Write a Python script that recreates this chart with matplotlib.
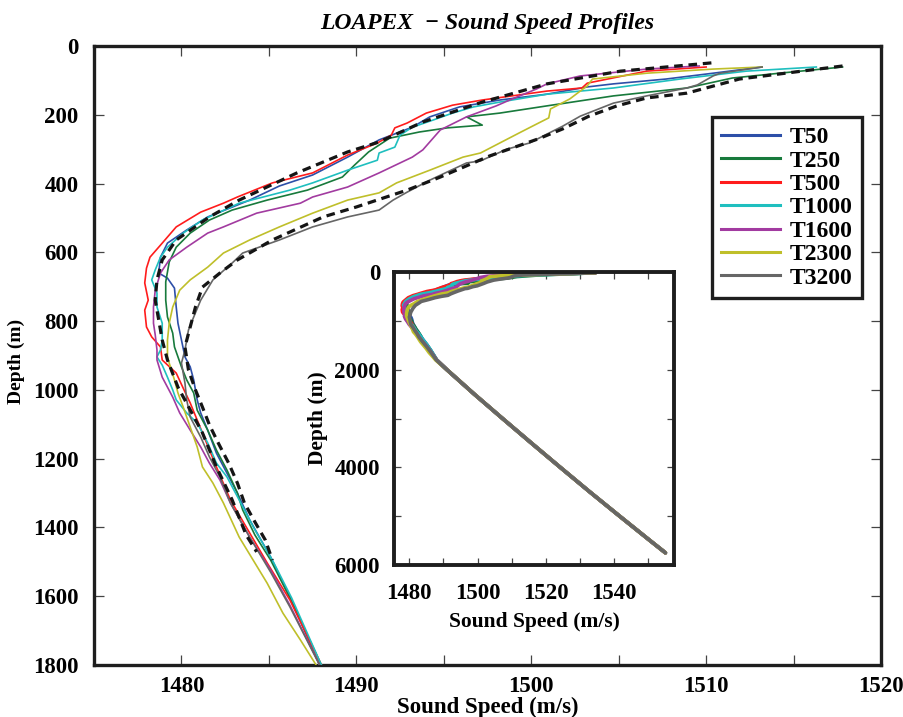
import matplotlib
matplotlib.use("Agg")
import matplotlib.pyplot as plt
from matplotlib.ticker import MultipleLocator

# ---- data: sound speed (m/s) vs depth (m) ----
T50_SPEED = [1513.2, 1510.4, 1507.7, 1504.7, 1503.2, 1500.9, 1498.2, 1495.9, 1494.2, 1493.2,
             1491.3, 1489.5, 1487.5, 1485.6, 1483.9, 1481.5, 1480.3, 1479.2, 1478.8, 1478.7,
             1479.2, 1479.6, 1479.7, 1479.8, 1480.0, 1480.2, 1480.5, 1480.7, 1480.9, 1481.1,
             1481.5, 1482.0, 1482.6, 1483.2, 1483.9, 1485.1, 1486.2, 1487.9]
T50_DEPTH = [61, 79, 96, 110, 119, 140, 157, 177, 206, 236,
             273, 323, 375, 407, 448, 497, 535, 573, 614, 660,
             675, 704, 759, 806, 855, 904, 933, 971, 1029, 1067,
             1117, 1184, 1242, 1300, 1378, 1486, 1602, 1800]

T250_SPEED = [1517.8, 1514.2, 1511.5, 1508.9, 1504.7, 1500.9, 1498.2, 1496.3, 1497.2, 1495.2,
              1493.6, 1491.9, 1490.7, 1489.9, 1489.2, 1487.2, 1484.9, 1482.9, 1481.6, 1480.5,
              1479.7, 1479.3, 1479.1, 1479.1, 1479.2, 1479.5, 1479.6, 1480.0, 1480.3, 1480.7,
              1480.9, 1481.5, 1482.0, 1482.6, 1483.2, 1483.5, 1484.2, 1485.1, 1486.2, 1488.0]
T250_DEPTH = [61, 79, 93, 122, 145, 174, 195, 206, 230, 238,
              250, 268, 308, 346, 381, 419, 448, 477, 506, 544,
              585, 628, 686, 739, 788, 835, 875, 933, 971, 1009,
              1059, 1117, 1175, 1233, 1300, 1349, 1422, 1495, 1605, 1800]

T500_SPEED = [1510.0, 1506.6, 1503.2, 1502.9, 1500.9, 1498.9, 1497.2, 1495.5, 1494.0, 1492.9,
              1492.2, 1492.0, 1491.2, 1489.5, 1487.5, 1485.2, 1483.2, 1482.4, 1481.1, 1479.7,
              1478.8, 1478.2, 1478.0, 1477.9, 1478.1, 1477.9, 1478.0, 1478.3, 1478.8, 1478.9,
              1479.7, 1480.1, 1480.5, 1481.2, 1482.0, 1482.8, 1483.9, 1484.9, 1486.2, 1488.0]
T500_DEPTH = [61, 73, 108, 122, 131, 145, 157, 172, 195, 224,
              238, 259, 282, 317, 369, 398, 439, 457, 483, 526,
              579, 614, 646, 689, 739, 768, 817, 846, 875, 913,
              951, 995, 1038, 1125, 1224, 1320, 1416, 1503, 1611, 1800]

T1000_SPEED = [1516.3, 1512.3, 1508.5, 1504.7, 1500.9, 1498.2, 1496.7, 1495.5, 1494.4, 1493.2,
               1492.5, 1492.2, 1491.3, 1491.2, 1489.5, 1487.5, 1486.2, 1483.3, 1481.2, 1480.1,
               1479.2, 1478.8, 1478.5, 1478.3, 1478.6, 1478.6, 1478.9, 1478.9, 1478.8, 1478.6,
               1478.9, 1479.2, 1479.5, 1479.7, 1480.3, 1480.9, 1481.5, 1482.0, 1482.6, 1483.3,
               1484.2, 1485.2, 1486.3, 1488.0]
T1000_DEPTH = [61, 73, 96, 122, 140, 163, 177, 195, 215, 236,
               259, 294, 311, 332, 361, 398, 419, 457, 506, 544,
               585, 614, 651, 680, 718, 759, 806, 855, 884, 904,
               928, 963, 1000, 1029, 1067, 1096, 1154, 1213, 1253, 1320,
               1407, 1495, 1605, 1800]

T1600_SPEED = [1509.6, 1506.6, 1502.8, 1500.9, 1500.3, 1498.9, 1498.0, 1496.3, 1494.8, 1493.8,
               1493.2, 1491.3, 1489.5, 1487.5, 1486.8, 1484.3, 1482.4, 1481.5, 1480.3, 1479.3,
               1478.8, 1478.5, 1478.4, 1478.4, 1478.5, 1478.6, 1478.6, 1478.9, 1479.5, 1479.9,
               1480.5, 1481.1, 1481.6, 1482.2, 1482.8, 1483.9, 1485.1, 1486.2, 1487.9]
T1600_DEPTH = [58, 67, 87, 110, 125, 154, 174, 206, 244, 302,
               323, 369, 410, 439, 457, 486, 526, 544, 585, 622,
               660, 710, 759, 806, 840, 884, 913, 963, 1021, 1067,
               1117, 1166, 1213, 1262, 1329, 1428, 1524, 1626, 1800]

T2300_SPEED = [1513.2, 1510.4, 1506.6, 1503.5, 1503.2, 1502.8, 1502.2, 1501.1, 1501.0, 1500.3,
               1499.3, 1498.2, 1497.1, 1496.1, 1494.2, 1492.3, 1491.3, 1489.5, 1487.5, 1485.6,
               1483.9, 1482.4, 1481.5, 1480.5, 1479.9, 1479.5, 1479.3, 1479.2, 1479.2, 1479.3,
               1479.6, 1479.8, 1480.1, 1480.5, 1480.9, 1481.2, 1481.8, 1482.4, 1483.3, 1484.1,
               1484.9, 1485.8, 1486.8, 1487.7]
T2300_DEPTH = [61, 67, 79, 96, 116, 131, 154, 183, 209, 227,
               253, 282, 311, 323, 361, 398, 427, 448, 486, 526,
               564, 602, 643, 680, 710, 759, 806, 855, 904, 922,
               971, 1009, 1050, 1108, 1166, 1224, 1271, 1329, 1428, 1495,
               1562, 1649, 1727, 1800]

T3200_SPEED = [1513.2, 1510.8, 1510.4, 1509.5, 1508.9, 1506.6, 1504.7, 1502.8, 1501.8, 1500.9,
               1499.9, 1498.6, 1497.1, 1496.3, 1494.2, 1492.9, 1492.1, 1491.3, 1489.5, 1487.5,
               1485.6, 1483.5, 1482.9, 1481.8, 1481.1, 1480.7, 1480.4, 1480.2, 1480.0, 1480.2,
               1480.3, 1480.5, 1481.1, 1481.6, 1482.2, 1482.8, 1483.9, 1485.1, 1486.2, 1487.9]
T3200_DEPTH = [61, 79, 87, 113, 122, 145, 166, 204, 233, 256,
               282, 300, 334, 340, 390, 425, 448, 477, 497, 526,
               564, 602, 631, 680, 739, 788, 826, 884, 922, 980,
               1029, 1079, 1137, 1195, 1253, 1329, 1428, 1530, 1631, 1800]

# dashed reference envelopes
DASH_A_SPEED = [1510.3, 1505.1, 1500.9, 1497.2, 1493.8, 1491.3, 1489.5, 1486.6, 1483.3, 1481.6,
                1479.7, 1478.9, 1478.6, 1478.5, 1478.7, 1478.9, 1479.2, 1479.8, 1480.5, 1481.2,
                1482.0, 1482.9, 1483.7, 1484.3]
DASH_A_DEPTH = [49, 73, 110, 163, 221, 279, 308, 369, 448, 497,
                564, 622, 680, 739, 797, 855, 913, 992, 1058, 1125,
                1224, 1320, 1422, 1471]
DASH_B_SPEED = [1517.8, 1511.9, 1508.9, 1506.6, 1504.9, 1503.3, 1501.8, 1500.4, 1497.6, 1494.8,
                1492.9, 1490.0, 1488.1, 1485.2, 1483.2, 1482.2, 1481.2, 1480.8, 1480.5, 1480.2,
                1480.4, 1480.8, 1481.2, 1481.6, 1482.1, 1482.7, 1483.2, 1483.6, 1484.2, 1484.8,
                1485.2]
DASH_B_DEPTH = [58, 96, 137, 151, 174, 204, 241, 270, 320, 381,
                419, 468, 497, 564, 622, 660, 701, 759, 817, 875,
                942, 1000, 1050, 1102, 1154, 1213, 1271, 1329, 1384, 1437,
                1495]

# deep part shared by every cast (only visible in the inset)
DEEP_SPEED = [1491.0, 1499.0, 1507.3, 1515.7, 1524.2, 1532.8, 1541.6, 1550.5, 1555.0]
DEEP_DEPTH = [2000, 2500, 3000, 3500, 4000, 4500, 5000, 5500, 5750]
SURFACE_SPEED = 1534.5   # near-surface value seen at the top of the inset
SURFACE_DEPTH = 15

LABELS = ["T50", "T250", "T500", "T1000", "T1600", "T2300", "T3200"]
SPEEDS = [T50_SPEED, T250_SPEED, T500_SPEED, T1000_SPEED, T1600_SPEED, T2300_SPEED, T3200_SPEED]
DEPTHS = [T50_DEPTH, T250_DEPTH, T500_DEPTH, T1000_DEPTH, T1600_DEPTH, T2300_DEPTH, T3200_DEPTH]
COLORS = ["#2d4fa8", "#187a3c", "#ff1c1c", "#1fbfbf", "#a23ba0", "#bfbf2a", "#666666"]

FONT = "Liberation Serif"
FS_TICK = 16.5
EDGE = "#1e1e1e"

plt.rcParams["font.family"] = [FONT, "DejaVu Serif"]
plt.rcParams["font.weight"] = "bold"
plt.rcParams["axes.labelweight"] = "bold"


def style_axes(ax, lw, pad):
    for s in ax.spines.values():
        s.set_linewidth(lw)
        s.set_color(EDGE)
    ax.tick_params(which="both", direction="in", top=True, right=True,
                   length=7, width=0.9, color="#444444", labelsize=FS_TICK, pad=pad)


fig = plt.figure(figsize=(9.04, 7.17), dpi=100)
ax = fig.add_axes([0.104, 0.0725, 0.8706, 0.8633])

for lab, v, d, c in zip(LABELS, SPEEDS, DEPTHS, COLORS):
    ax.plot(v + DEEP_SPEED, d + DEEP_DEPTH, color=c, lw=1.2, label=lab, zorder=3)
for v, d in [(DASH_A_SPEED, DASH_A_DEPTH), (DASH_B_SPEED, DASH_B_DEPTH)]:
    ax.plot(v, d, color="#151515", lw=2.3, ls=(0, (2.7, 1.8)), zorder=4)

ax.set_xlim(1475, 1520)
ax.set_ylim(1800, 0)
ax.xaxis.set_major_locator(MultipleLocator(10))
ax.xaxis.set_minor_locator(MultipleLocator(5))
ax.yaxis.set_major_locator(MultipleLocator(200))
style_axes(ax, 2.4, 11)
ax.tick_params(axis="x", pad=8)
ax.set_xlabel("Sound Speed (m/s)", fontsize=16.5, va="top")
ax.xaxis.set_label_coords(0.5, -0.052)
ax.set_ylabel("Depth (m)", fontsize=14)
ax.yaxis.set_label_coords(-0.088, 0.49)
ax.set_title("LOAPEX  \u2212 Sound Speed Profiles", fontsize=17,
             fontweight="bold", fontstyle="italic", pad=12)

leg = ax.legend(loc="upper right", bbox_to_anchor=(0.976, 0.885), borderaxespad=0,
                fontsize=17, handlelength=2.5, handletextpad=0.4, labelspacing=0.08,
                borderpad=0.4, fancybox=False, framealpha=1)
leg.get_frame().set_edgecolor(EDGE)
leg.get_frame().set_linewidth(2.4)
for h in leg.get_lines():
    h.set_linewidth(2.2)

# inset: full water column
ins = fig.add_axes([0.4358, 0.2120, 0.3097, 0.4086])
for v, d, c in zip(SPEEDS, DEPTHS, COLORS):
    ins.plot([SURFACE_SPEED] + v + DEEP_SPEED, [SURFACE_DEPTH] + d + DEEP_DEPTH,
             color=c, lw=2.6, solid_capstyle="round")
ins.set_xlim(1475.5, 1557.5)
ins.set_ylim(6000, 0)
ins.xaxis.set_major_locator(MultipleLocator(20))
ins.xaxis.set_minor_locator(MultipleLocator(10))
ins.yaxis.set_major_locator(MultipleLocator(2000))
ins.yaxis.set_minor_locator(MultipleLocator(1000))
style_axes(ins, 2.8, 10)
ins.tick_params(which="both", length=5)
ins.tick_params(axis="x", pad=13)
ins.set_xlabel("Sound Speed (m/s)", fontsize=15.5, labelpad=6)
ins.set_ylabel("Depth (m)", fontsize=15.5, labelpad=5)

fig.savefig("out.png", dpi=100)
